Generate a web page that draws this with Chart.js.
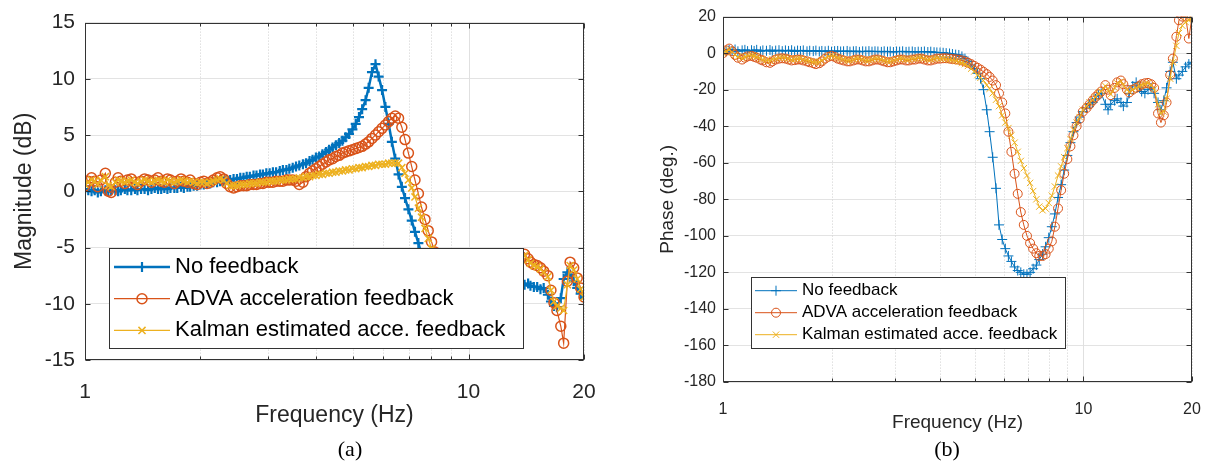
<!DOCTYPE html>
<html>
<head>
<meta charset="utf-8">
<script src="https://cdn.jsdelivr.net/npm/chart.js@4.4.1/dist/chart.umd.min.js"></script>
<style>
  html, body { margin: 0; padding: 0; background: #fff; }
  #wrap { position: relative; width: 1207px; height: 463px; overflow: hidden; }
  canvas { position: absolute; top: 0; }
  #magChart { left: 0; }
  #phaseChart { left: 607px; }
  .cap { position: absolute; top: 437px; line-height: 24px; font-family: "Liberation Serif", "Times New Roman", serif; font-size: 22px; color: #000; transform: translateX(-50%); }
</style>
</head>
<body>
<div id="wrap">
  <canvas id="magChart" width="600" height="463"></canvas>
  <canvas id="phaseChart" width="600" height="463"></canvas>
  <div class="cap" style="left:350px">(a)</div>
  <div class="cap" style="left:947px">(b)</div>
</div>
<script>
// ===== DATA =====
const freqHz = [
  1.00, 1.02, 1.04, 1.06, 1.08, 1.10, 1.13, 1.15, 1.17, 1.20,
  1.22, 1.24, 1.27, 1.29, 1.32, 1.35, 1.37, 1.40, 1.43, 1.46,
  1.49, 1.52, 1.55, 1.58, 1.61, 1.64, 1.67, 1.71, 1.74, 1.78,
  1.81, 1.85, 1.88, 1.92, 1.96, 2.00, 2.04, 2.08, 2.12, 2.16,
  2.21, 2.25, 2.30, 2.34, 2.39, 2.44, 2.49, 2.54, 2.59, 2.64,
  2.69, 2.75, 2.80, 2.86, 2.91, 2.97, 3.03, 3.09, 3.15, 3.22,
  3.28, 3.35, 3.41, 3.48, 3.55, 3.62, 3.70, 3.77, 3.85, 3.92,
  4.00, 4.08, 4.16, 4.25, 4.33, 4.42, 4.51, 4.60, 4.69, 4.78,
  4.88, 4.98, 5.08, 5.18, 5.28, 5.39, 5.49, 5.60, 5.72, 5.83,
  5.95, 6.07, 6.19, 6.31, 6.44, 6.57, 6.70, 6.83, 6.97, 7.11,
  7.25, 7.40, 7.54, 7.70, 7.85, 8.01, 8.17, 8.33, 8.50, 8.67,
  8.84, 9.02, 9.20, 9.38, 9.57, 9.76, 9.96, 10.2, 10.4, 10.6,
  10.8, 11.0, 11.2, 11.5, 11.7, 11.9, 12.2, 12.4, 12.7, 12.9,
  13.2, 13.4, 13.7, 14.0, 14.3, 14.5, 14.8, 15.1, 15.4, 15.7,
  16.1, 16.4, 16.7, 17.0, 17.4, 17.7, 18.1, 18.4, 18.8, 19.2,
  19.6, 20.0
];

// magnitude (dB)
const magNoFeedback = [
  0.2, 0.1, 0.0, 0.1, -0.1, 0.0, 0.1, 0.0, 0.1, 0.1,
  0.0, 0.1, 0.2, 0.1, 0.1, 0.2, 0.1, 0.2, 0.2, 0.1,
  0.2, 0.3, 0.2, 0.2, 0.3, 0.2, 0.3, 0.3, 0.3, 0.4,
  0.3, 0.4, 0.4, 0.5, 0.5, 0.6, 0.6, 0.7, 0.7, 0.8,
  0.8, 0.9, 0.9, 1.0, 1.0, 1.1, 1.1, 1.2, 1.2, 1.3,
  1.3, 1.4, 1.4, 1.5, 1.5, 1.6, 1.6, 1.7, 1.7, 1.8,
  1.9, 1.9, 2.0, 2.1, 2.2, 2.3, 2.4, 2.5, 2.7, 2.8,
  3.0, 3.1, 3.3, 3.5, 3.7, 3.9, 4.1, 4.3, 4.5, 4.8,
  5.1, 5.5, 6.0, 6.6, 7.3, 8.1, 9.2, 10.6, 11.3, 10.2,
  9.0, 7.5, 6.0, 4.4, 2.9, 1.5, 0.4, -0.6, -1.6, -2.6,
  -3.6, -4.6, -5.6, -6.6, -7.5, -8.4, -9.2, -9.9, -10.4, -10.8,
  -11.0, -11.0, -10.9, -10.7, -10.5, -10.3, -10.1, -9.8, -9.5, -9.3,
  -9.1, -8.9, -8.8, -8.6, -8.5, -8.4, -8.3, -8.3, -8.2, -8.2,
  -8.2, -8.1, -8.2, -8.3, -8.2, -8.4, -8.5, -8.5, -8.7, -8.6,
  -9.2, -9.8, -10.2, -10.3, -9.5, -7.8, -7.2, -7.4, -8.0, -8.6,
  -9.1, -9.5
];
const magAdva = [
  0.5, 0.9, 1.2, 0.9, 0.4, 1.0, 1.6, 0.0, -0.1, 0.8,
  1.2, 0.9, 0.7, 1.0, 1.1, 0.8, 0.6, 0.9, 1.1, 1.0,
  0.8, 1.0, 1.2, 0.9, 0.8, 1.1, 1.0, 0.7, 0.9, 1.1,
  0.9, 0.8, 1.0, 0.7, 0.6, 0.8, 0.9, 0.7, 0.8, 1.0,
  1.2, 1.3, 1.1, 0.7, 0.4, 0.3, 0.4, 0.5, 0.5, 0.5,
  0.6, 0.6, 0.6, 0.7, 0.7, 0.8, 0.8, 0.8, 0.9, 0.9,
  0.9, 1.0, 1.0, 1.0, 0.9, 0.6, 0.8, 1.3, 1.6, 1.8,
  2.0, 2.2, 2.4, 2.6, 2.8, 2.9, 3.1, 3.2, 3.4, 3.5,
  3.6, 3.7, 3.8, 3.9, 4.0, 4.2, 4.4, 4.7, 5.0, 5.3,
  5.6, 5.9, 6.2, 6.5, 6.7, 6.5, 5.7, 4.6, 3.4, 2.2,
  1.0, -0.2, -1.4, -2.5, -3.5, -4.5, -5.4, -6.2, -6.9, -7.5,
  -7.9, -8.2, -8.4, -8.5, -8.5, -8.4, -8.2, -8.0, -7.8, -7.6,
  -7.4, -7.2, -7.0, -6.8, -6.7, -6.6, -6.4, -6.3, -6.2, -6.1,
  -6.0, -5.9, -5.8, -5.6, -6.0, -6.3, -6.5, -6.6, -6.8, -7.1,
  -7.5, -8.8, -9.9, -10.6, -12.0, -13.5, -8.0, -6.3, -6.8, -7.7,
  -8.6, -9.4
];
const magKalman = [
  0.6, 0.8, 1.0, 0.9, 0.6, 1.0, 1.3, 0.5, 0.4, 0.8,
  1.0, 0.9, 0.8, 0.9, 1.0, 0.8, 0.7, 0.9, 1.0, 0.9,
  0.8, 0.9, 1.0, 0.9, 0.8, 1.0, 0.9, 0.8, 0.9, 1.0,
  0.9, 0.8, 0.9, 0.8, 0.7, 0.8, 0.8, 0.7, 0.8, 0.9,
  1.0, 1.1, 1.0, 0.7, 0.5, 0.5, 0.5, 0.6, 0.6, 0.6,
  0.7, 0.7, 0.7, 0.8, 0.8, 0.8, 0.9, 0.9, 0.9, 1.0,
  1.0, 1.0, 1.1, 1.1, 1.1, 1.2, 1.2, 1.3, 1.3, 1.4,
  1.4, 1.5, 1.5, 1.6, 1.6, 1.7, 1.7, 1.8, 1.8, 1.9,
  1.9, 2.0, 2.0, 2.1, 2.1, 2.2, 2.2, 2.3, 2.3, 2.4,
  2.4, 2.4, 2.5, 2.5, 2.5, 2.5, 2.1, 1.6, 1.0, 0.3,
  -0.5, -1.5, -2.3, -3.3, -4.2, -5.1, -5.9, -6.6, -7.2, -7.7,
  -8.0, -8.2, -8.3, -8.3, -8.3, -8.2, -8.0, -7.8, -7.6, -7.4,
  -7.2, -7.0, -6.9, -6.7, -6.6, -6.5, -6.4, -6.3, -6.2, -6.1,
  -6.0, -5.9, -5.8, -5.7, -6.1, -6.4, -6.6, -6.7, -6.9, -7.2,
  -7.6, -8.8, -9.8, -10.2, -10.4, -10.6, -8.3, -6.6, -7.0, -7.8,
  -8.7, -9.4
];

// phase (deg.)
const phaseNoFeedback = [
  1.5, 1.0, 1.8, 1.2, 2.0, 1.0, 1.5, 1.8, 1.1, 1.6,
  1.2, 1.8, 1.0, 1.5, 1.3, 1.7, 1.0, 1.4, 1.6, 1.1,
  1.5, 1.2, 1.6, 0.9, 1.4, 1.2, 1.5, 1.0, 1.3, 1.1,
  1.4, 0.9, 1.2, 1.0, 1.3, 0.8, 1.1, 1.2, 0.9, 1.0,
  1.2, 0.8, 1.0, 1.1, 0.7, 1.0, 0.9, 1.1, 0.8, 1.0,
  0.9, 0.7, 1.0, 0.8, 0.9, 0.6, 0.9, 0.8, 1.0, 0.7,
  0.8, 0.9, 0.6, 0.8, 0.7, 0.9, 0.6, 0.8, 0.5, 0.4,
  0.3, 0.2, 0.0, -0.2, -0.5, -0.8, -1.0, -1.8, -3.0, -4.5,
  -6.5, -8.5, -11, -14, -20, -31, -43, -57, -74, -94,
  -102, -107, -111, -114, -117, -119, -120, -121, -121, -120,
  -118, -116, -113, -110, -106, -101, -95, -88, -79, -72,
  -64, -56, -49, -43, -38, -35, -32, -30, -28, -27,
  -25, -23, -22, -28, -31, -28, -26, -25, -27, -29,
  -27, -22, -18, -16, -19, -21, -22, -20, -19, -22,
  -27, -31, -26, -19, -10, -5, -14, -12, -10, -7.5,
  -6, -5
];
const phaseAdva = [
  0, 1.5, 2.5, 1.0, -1.0, -2.5, -3.5, -2.5, -1.8, -1.5,
  -2.0, -2.5, -3.5, -4.0, -5.0, -5.3, -4.5, -3.5, -3.0, -2.8,
  -3.0, -3.5, -4.0, -3.8, -3.5, -3.5, -4.0, -4.5, -5.0, -5.5,
  -6.0, -5.5, -4.5, -3.0, -2.0, -1.5, -2.0, -3.0, -3.5, -4.0,
  -4.5, -4.5, -4.0, -3.5, -3.5, -4.0, -4.5, -4.5, -4.0, -3.5,
  -3.5, -4.0, -4.5, -5.0, -5.0, -4.5, -4.0, -3.5, -3.5, -4.0,
  -4.0, -3.5, -3.5, -3.0, -3.0, -3.5, -4.0, -4.0, -3.5, -3.0,
  -3.0, -2.8, -2.8, -3.0, -3.2, -3.4, -3.6, -4.0, -4.6, -5.2,
  -6.0, -7.0, -8.0, -9.0, -10.2, -11.5, -13.0, -15.0, -17.5, -22,
  -27, -33, -43, -54, -66, -77, -87, -94, -100, -104,
  -107, -109.5, -111, -111, -110, -107, -103, -95, -85, -75,
  -66, -58, -51, -45, -40, -36, -32, -30, -28, -26,
  -24, -22.5, -21, -17.5, -20, -23, -19, -16, -15, -17,
  -20, -21.5, -20, -19, -18, -17, -16.5, -16.3, -17, -19,
  -33, -38, -34, -27, -12, -3, 9, 18, 20, 20,
  8, 20
];
const phaseKalman = [
  0, 1.0, 1.8, 0.5, -1.0, -2.0, -2.8, -2.0, -1.5, -1.2,
  -1.5, -2.0, -3.0, -3.5, -4.0, -4.3, -3.5, -3.0, -2.5, -2.5,
  -2.5, -3.0, -3.5, -3.3, -3.0, -3.0, -3.5, -4.0, -4.3, -4.8,
  -5.0, -4.8, -4.0, -2.8, -1.8, -1.5, -1.8, -2.5, -3.0, -3.5,
  -4.0, -4.0, -3.5, -3.0, -3.0, -3.5, -4.0, -4.0, -3.5, -3.0,
  -3.0, -3.5, -4.0, -4.5, -4.5, -4.0, -3.5, -3.0, -3.0, -3.5,
  -3.5, -3.0, -3.0, -2.5, -2.5, -3.0, -3.5, -3.5, -3.0, -2.8,
  -3.0, -3.0, -3.2, -3.5, -3.8, -4.2, -4.7, -5.3, -6.0, -7.0,
  -8.5, -10, -12, -13.5, -15, -17.5, -19.5, -22, -25.5, -29,
  -34, -38, -41, -45, -49, -54, -59, -63, -67, -71,
  -75.5, -80, -84, -86, -85, -82, -78, -73, -67, -62,
  -57, -52, -47, -42, -38, -35, -31, -29, -27, -25.5,
  -24, -22, -21, -18, -20, -22.5, -19, -16.5, -15.5, -17.5,
  -20, -21, -20, -19, -18, -17.5, -17, -16.5, -17.5, -19.5,
  -28, -33, -32, -25, -14, -5, 4, 11, 15, 17,
  18, 19
];

const seriesNames = ['No feedback', 'ADVA acceleration feedback', 'Kalman estimated acce. feedback'];
const freqTicks = [1, 2, 3, 4, 5, 6, 7, 8, 9, 10, 20];
const freqTickLabels = [1, 10, 20];

// ===== STYLE =====
const FONT = '"Liberation Sans", Arial, Helvetica, sans-serif';
const COLORS = ['#0072BD', '#D95319', '#EDB120'];
const MARKERS = ['cross', 'circle', 'crossRot'];
const AXIS_COLOR = '#333333';

function toPoints(vals) {
  return freqHz.map((f, i) => ({ x: f, y: vals[i] }));
}

// matlab look: dotted minor grid, box, inward ticks, legend inside the axes
const matlabAxes = {
  id: 'matlabAxes',
  beforeDatasetsDraw(chart) {
    const { ctx, chartArea: a, scales: { x } } = chart;
    ctx.save();
    ctx.lineWidth = 1;
    freqTicks.forEach(v => {
      const px = Math.round(x.getPixelForValue(v)) + 0.5;
      const major = v === 1 || v === 10;
      ctx.strokeStyle = major ? '#e0e0e0' : '#cfcfcf';
      ctx.setLineDash(major ? [] : [1, 2]);
      ctx.beginPath();
      ctx.moveTo(px, a.top);
      ctx.lineTo(px, a.bottom);
      ctx.stroke();
    });
    ctx.restore();
  },
  afterDatasetsDraw(chart) {
    const { ctx, chartArea: a, scales: { x, y } } = chart;
    const l = Math.round(a.left) + 0.5, r = Math.round(a.right) - 0.5;
    const t = Math.round(a.top) + 0.5, b = Math.round(a.bottom) - 0.5;
    ctx.save();
    ctx.strokeStyle = AXIS_COLOR;
    ctx.lineWidth = 1;
    ctx.strokeRect(l, t, r - l, b - t);
    ctx.beginPath();
    y.ticks.forEach(tk => {
      const py = Math.round(y.getPixelForValue(tk.value)) + 0.5;
      ctx.moveTo(l, py); ctx.lineTo(l + 5, py);
      ctx.moveTo(r, py); ctx.lineTo(r - 5, py);
    });
    freqTicks.forEach(v => {
      const px = Math.round(x.getPixelForValue(v)) + 0.5;
      const len = (v === 1 || v === 10 || v === 20) ? 5 : 3;
      ctx.moveTo(px, b); ctx.lineTo(px, b - len);
      ctx.moveTo(px, t); ctx.lineTo(px, t + len);
    });
    ctx.stroke();
    ctx.restore();
  },
  afterDraw(chart, args, opts) {
    const L = opts.legend;
    if (!L) return;
    const ctx = chart.ctx;
    ctx.save();
    ctx.fillStyle = '#ffffff';
    ctx.fillRect(L.x, L.y, L.w, L.h);
    ctx.strokeStyle = AXIS_COLOR;
    ctx.lineWidth = 1;
    ctx.strokeRect(L.x + 0.5, L.y + 0.5, L.w, L.h);
    chart.data.datasets.forEach((ds, i) => {
      const cy = L.y + L.firstRow + i * L.rowH;
      ctx.strokeStyle = ds.borderColor;
      ctx.lineWidth = ds.borderWidth;
      ctx.beginPath();
      ctx.moveTo(L.x + L.lineFrom, cy);
      ctx.lineTo(L.x + L.lineTo, cy);
      ctx.stroke();
      ctx.lineWidth = ds.pointBorderWidth;
      ctx.fillStyle = 'rgba(0,0,0,0)';
      Chart.helpers.drawPoint(ctx, {
        pointStyle: ds.pointStyle, radius: ds.pointRadius,
        rotation: 0, borderWidth: ds.pointBorderWidth
      }, L.x + (L.lineFrom + L.lineTo) / 2, cy);
      ctx.fillStyle = '#000';
      ctx.font = `${L.fontSize}px ${FONT}`;
      ctx.textBaseline = 'middle';
      ctx.textAlign = 'left';
      ctx.fillText(seriesNames[i], L.x + L.textX, cy);
    });
    ctx.restore();
  }
};

function makeChart(id, cfg) {
  return new Chart(document.getElementById(id), {
    type: 'scatter',
    data: {
      datasets: cfg.series.map((vals, i) => ({
        label: seriesNames[i],
        data: toPoints(vals),
        showLine: true,
        borderColor: COLORS[i],
        backgroundColor: 'rgba(0,0,0,0)',
        borderWidth: cfg.lineW[i],
        pointStyle: MARKERS[i],
        pointRadius: cfg.markR[i],
        pointHoverRadius: cfg.markR[i],
        pointBorderWidth: cfg.markW[i],
        pointBorderColor: COLORS[i],
        pointBackgroundColor: 'rgba(0,0,0,0)',
        order: 3 - i
      }))
    },
    options: {
      responsive: false,
      animation: false,
      devicePixelRatio: 1,
      layout: { padding: cfg.pad },
      plugins: {
        legend: { display: false },
        tooltip: { enabled: false },
        matlabAxes: { legend: cfg.legend }
      },
      scales: {
        x: {
          type: 'logarithmic',
          min: 1,
          max: 20,
          afterBuildTicks: s => { s.ticks = freqTicks.map(v => ({ value: v })); },
          afterFit: s => { s.height = cfg.xH; s.paddingLeft = 0; s.paddingRight = 0; },
          grid: { display: false },
          border: { display: false },
          ticks: {
            autoSkip: false,
            maxRotation: 0,
            padding: cfg.xTickPad,
            color: '#262626',
            font: { family: FONT, size: cfg.tickSize },
            callback: v => freqTickLabels.includes(v) ? String(v) : ''
          },
          title: {
            display: true,
            text: 'Frequency (Hz)',
            color: '#262626',
            font: { family: FONT, size: cfg.titleSize },
            padding: { top: 0, bottom: cfg.xTitlePad }
          }
        },
        y: {
          min: cfg.yMin,
          max: cfg.yMax,
          afterFit: s => { s.width = cfg.yW; },
          grid: { color: '#e3e3e3', drawTicks: false },
          border: { display: false },
          ticks: {
            stepSize: cfg.yStep,
            padding: cfg.yTickPad,
            color: '#262626',
            font: { family: FONT, size: cfg.tickSize }
          },
          title: {
            display: true,
            text: cfg.yTitle,
            color: '#262626',
            font: { family: FONT, size: cfg.titleSize },
            padding: { top: cfg.yTitlePad, bottom: 0 }
          }
        }
      }
    },
    plugins: [matlabAxes]
  });
}

// (a) magnitude
makeChart('magChart', {
  series: [magNoFeedback, magAdva, magKalman],
  lineW: [2.5, 1.2, 1.2],
  markR: [5, 5, 5],
  markW: [2.2, 1.5, 1.5],
  pad: { left: 0, top: 19, right: 16, bottom: 0 },
  yW: 85, xH: 103,
  yMin: -15, yMax: 15, yStep: 5,
  tickSize: 21, titleSize: 23,
  yTickPad: 10, xTickPad: 12,
  xTitlePad: 34, yTitlePad: 11,
  yTitle: 'Magnitude (dB)',
  legend: { x: 109, y: 248, w: 414, h: 100, firstRow: 19, rowH: 31.7,
            lineFrom: 5, lineTo: 61, textX: 66, fontSize: 22 }
});

// (b) phase
makeChart('phaseChart', {
  series: [phaseNoFeedback, phaseAdva, phaseKalman],
  lineW: [1, 1, 1],
  markR: [5, 4.5, 4.5],
  markW: [1, 1, 1],
  pad: { left: 0, top: 13, right: 15, bottom: 0 },
  yW: 116, xH: 81,
  yMin: -180, yMax: 20, yStep: 20,
  tickSize: 16, titleSize: 19,
  yTickPad: 7, xTickPad: 10,
  xTitlePad: 29, yTitlePad: 49,
  yTitle: 'Phase (deg.)',
  legend: { x: 144, y: 277, w: 314, h: 71, firstRow: 13.7, rowH: 22,
            lineFrom: 4, lineTo: 46, textX: 51, fontSize: 17 }
});
</script>
</body>
</html>
